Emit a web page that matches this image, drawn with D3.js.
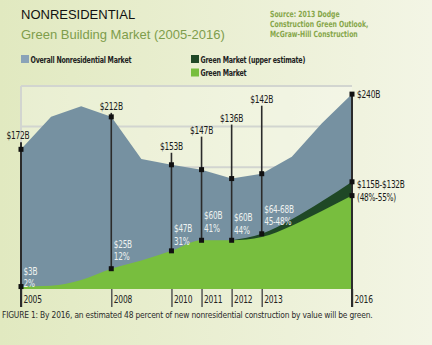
<!DOCTYPE html>
<html lang="en">
<head>
    <meta charset="UTF-8">
    <title>Nonresidential Green Building Market</title>
    <script src="https://d3js.org/d3.v7.min.js"></script>
    <style>
        html, body { margin: 0; padding: 0; }
        svg { display: block; }
        .narrow { font-family: "Liberation Sans Narrow", "DejaVu Sans Condensed", "Arial Narrow", sans-serif; }
    </style>
</head>
<body>
</body>
<script>
    const width = 432;
    const height = 345;

    // market size by year, $ billions
    const years = [2005, 2006, 2007, 2008, 2009, 2010, 2011, 2012, 2013, 2014, 2015, 2016];
    const overall = [172, 212, 225, 212, 160, 153, 147, 136, 142, 163, 204, 240];
    const green = [3, 4, 11, 25, 35, 47, 60, 60, 64, 78, 96, 115];
    const upperYears = [2012, 2013, 2014, 2015, 2016];
    const greenUpper = [60, 68, 86, 108, 132];

    // annotated years
    const labelYears = [2005, 2008, 2010, 2011, 2012, 2013, 2016];
    const totalLabels = ["$172B", "$212B", "$153B", "$147B", "$136B", "$142B", "$240B"];
    const greenLabels = ["$3B", "$25B", "$47B", "$60B", "$60B", "$64-68B", "$115B-$132B"];
    const shareLabels = ["2%", "12%", "31%", "41%", "44%", "45-48%", "(48%-55%)"];
    const gridValues = [150, 200, 250];

    // how far each total label sits above its marker (px)
    const totalLift = [10, 7, 15, 36, 57, 71, 0];
    const greenLift = [12, 21, 19, 21, 19, 21, 0];

    const x = d3.scaleLinear().domain([2005, 2016]).range([21, 352]);
    const y = d3.scaleLinear().domain([0, 250]).range([289, 86]);

    // squeeze text horizontally around its own x so it reads condensed
    function squeeze(sel, f) {
        sel.attr("transform", function () {
            const x0 = +this.getAttribute("x") || 0;
            return `translate(${x0},0) scale(${f},1) translate(${-x0},0)`;
        });
    }

    const svg = d3.select("body").append("svg")
        .attr("width", width)
        .attr("height", height);

    const defs = svg.append("defs");
    const bg = defs.append("linearGradient").attr("id", "bg")
        .attr("x1", "0%").attr("x2", "100%").attr("y1", "0%").attr("y2", "0%");
    bg.append("stop").attr("offset", "0%").attr("stop-color", "#e1e9c0");
    bg.append("stop").attr("offset", "100%").attr("stop-color", "#f3f5e5");

    svg.append("rect").attr("width", width).attr("height", height).attr("fill", "url(#bg)");

    // titles
    svg.append("text").attr("x", 21).attr("y", 19)
        .attr("font-family", "'Liberation Sans', Arial, sans-serif")
        .attr("font-size", 13).attr("fill", "#111")
        .text("NONRESIDENTIAL");
    svg.append("text").attr("x", 21).attr("y", 38.5)
        .attr("font-family", "'Liberation Sans', Arial, sans-serif")
        .attr("font-size", 13).attr("fill", "#7e9d4c")
        .text("Green Building Market (2005-2016)");

    const source = ["Source: 2013 Dodge", "Construction Green Outlook,", "McGraw-Hill Construction"];
    svg.append("g").selectAll("text").data(source).join("text")
        .attr("class", "narrow")
        .attr("x", 270)
        .attr("y", (d, i) => 17 + i * 10)
        .attr("font-size", 8.5)
        .attr("font-weight", "bold")
        .attr("fill", "#86a64a")
        .text(d => d)
        .call(squeeze, 0.8);

    // legend
    const legend = [
        {label: "Overall Nonresidential Market", color: "#8aa3b8", lx: 21, ly: 55},
        {label: "Green Market (upper estimate)", color: "#1f4826", lx: 191, ly: 55},
        {label: "Green Market", color: "#78be3e", lx: 191, ly: 68.5}
    ];
    const lg = svg.append("g").selectAll("g").data(legend).join("g")
        .attr("transform", d => `translate(${d.lx},${d.ly})`);
    lg.append("rect").attr("width", 8).attr("height", 8).attr("fill", d => d.color);
    lg.append("text").attr("class", "narrow")
        .attr("x", 9.5).attr("y", 7.5)
        .attr("font-size", 9.5).attr("font-weight", "bold")
        .attr("letter-spacing", -0.3)
        .attr("fill", "#222")
        .text(d => d.label)
        .call(squeeze, 0.74);

    // frame and grid
    svg.append("rect")
        .attr("x", x(2005)).attr("y", y(250))
        .attr("width", x(2016) - x(2005)).attr("height", y(0) - y(250))
        .attr("fill", "#fff").attr("opacity", 0.25);
    svg.append("g").selectAll("line").data(gridValues).join("line")
        .attr("x1", x(2005)).attr("x2", x(2016))
        .attr("y1", d => y(d)).attr("y2", d => y(d))
        .attr("stroke", "#d2d5d0").attr("stroke-width", 2);
    svg.append("line")
        .attr("x1", x(2005)).attr("x2", x(2005))
        .attr("y1", y(250)).attr("y2", y(0))
        .attr("stroke", "#d2d5d0").attr("stroke-width", 2);

    // areas
    const overallArea = d3.area()
        .x((d, i) => x(years[i]))
        .y0(y(0))
        .y1(d => y(d));
    svg.append("path").datum(overall)
        .attr("d", overallArea)
        .attr("fill", "#7691a1");

    const upperArea = d3.area()
        .curve(d3.curveMonotoneX)
        .x((d, i) => x(upperYears[i]))
        .y0(y(0))
        .y1(d => y(d));
    svg.append("path").datum(greenUpper)
        .attr("d", upperArea)
        .attr("fill", "#1f4826");

    const greenArea = d3.area()
        .curve(d3.curveMonotoneX)
        .x((d, i) => x(years[i]))
        .y0(y(0))
        .y1(d => y(d));
    svg.append("path").datum(green)
        .attr("d", greenArea)
        .attr("fill", "#78be3e");

    // x axis
    const axis = svg.append("g")
        .attr("class", "narrow")
        .attr("transform", `translate(0,${y(0)})`)
        .call(d3.axisBottom(x).tickValues(labelYears).tickSize(18).tickFormat(d3.format("d")));
    axis.select(".domain").remove();
    axis.selectAll(".tick line").attr("stroke", "#555").attr("stroke-width", 1.5);
    axis.selectAll(".tick text")
        .attr("x", 2).attr("y", 14).attr("dy", 0)
        .attr("text-anchor", "start")
        .attr("font-size", 10.5).attr("letter-spacing", -0.3)
        .attr("fill", "#222")
        .call(squeeze, 0.8);

    // callouts
    const notes = labelYears.map((yr, i) => {
        const k = years.indexOf(yr);
        const uk = upperYears.indexOf(yr);
        return {
            year: yr,
            total: overall[k],
            green: uk >= 0 && yr !== 2012 ? greenUpper[uk] : green[k],
            low: green[k],
            i
        };
    });

    const last = notes.length - 1;
    const ann = svg.append("g");

    ann.selectAll("line.stem").data(notes).join("line")
        .attr("class", "stem")
        .attr("x1", d => x(d.year)).attr("x2", d => x(d.year))
        .attr("y1", d => d.i === last ? y(d.total) : y(d.total) - totalLift[d.i] + 3)
        .attr("y2", d => (d.i === 0 || d.i === last) ? y(0) + 18 : y(d.green))
        .attr("stroke", "#2b2b2b")
        .attr("stroke-width", d => (d.i === 0 || d.i === last) ? 2 : 1.6);

    const marks = [];
    notes.forEach(d => {
        marks.push([d.year, d.total]);
        marks.push([d.year, d.green]);
        if (d.i === last) marks.push([d.year, d.low]);
    });
    ann.selectAll("rect.mark").data(marks).join("rect")
        .attr("class", "mark")
        .attr("x", d => x(d[0]) - 2.5).attr("y", d => y(d[1]) - 2.5)
        .attr("width", 5).attr("height", 5)
        .attr("fill", "#111");

    ann.selectAll("text.total").data(notes).join("text")
        .attr("class", "narrow total")
        .attr("x", d => d.i === last ? x(d.year) + 5 : x(d.year) - (d.i === 0 ? 3 : 0))
        .attr("y", d => d.i === last ? y(d.total) + 3.5 : y(d.total) - totalLift[d.i])
        .attr("text-anchor", d => d.i === last ? "start" : "middle")
        .attr("font-size", 11).attr("letter-spacing", -0.3)
        .attr("fill", "#1a1a1a")
        .text(d => totalLabels[d.i])
        .call(squeeze, 0.76);

    const gl = ann.selectAll("text.green").data(notes).join("text")
        .attr("class", "narrow green")
        .attr("x", d => d.i === last ? x(d.year) + 5 : x(d.year) + 2.5)
        .attr("y", d => d.i === last ? y(d.green) + 6 : y(d.green) - greenLift[d.i])
        .attr("font-size", 10.5).attr("letter-spacing", -0.3)
        .attr("fill", d => d.i === last ? "#1a1a1a" : "#eef2f0");
    gl.append("tspan").text(d => greenLabels[d.i]);
    gl.append("tspan")
        .attr("x", d => d.i === last ? x(d.year) + 5 : x(d.year) + 2.5)
        .attr("dy", 12.7)
        .text(d => shareLabels[d.i]);
    gl.call(squeeze, 0.78);

    // caption
    svg.append("text").attr("class", "narrow")
        .attr("x", 2).attr("y", 318)
        .attr("font-size", 9).attr("letter-spacing", -0.2)
        .attr("fill", "#2a2a2a")
        .text("FIGURE 1: By 2016, an estimated 48 percent of new nonresidential construction by value will be green.")
        .call(squeeze, 0.93);
</script>
</html>
